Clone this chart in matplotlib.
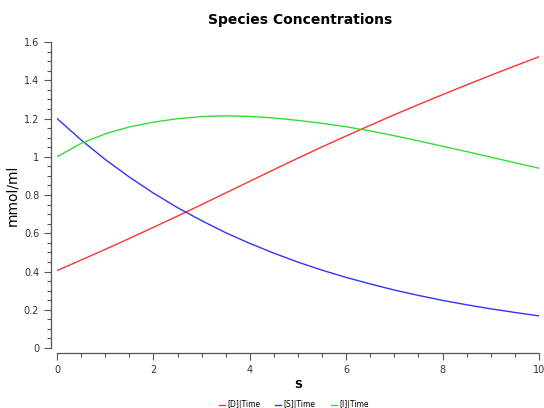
import numpy as np
import matplotlib
matplotlib.use("Agg")
import matplotlib.pyplot as plt
from matplotlib.ticker import MultipleLocator, FormatStrFormatter

# values, every 0.5 time units
time = [0, 0.5, 1, 1.5, 2, 2.5, 3, 3.5, 4, 4.5, 5,
        5.5, 6, 6.5, 7, 7.5, 8, 8.5, 9, 9.5, 10]
conc_D = [0.405, 0.46, 0.516, 0.573, 0.631, 0.69, 0.75, 0.811, 0.872, 0.933, 0.993,
          1.052, 1.109, 1.165, 1.22, 1.273, 1.325, 1.376, 1.426, 1.475, 1.523]
conc_S = [1.2, 1.088, 0.986, 0.894, 0.81, 0.734, 0.666, 0.603, 0.547, 0.496, 0.449,
          0.407, 0.369, 0.335, 0.303, 0.275, 0.249, 0.226, 0.205, 0.186, 0.168]
conc_I = [1.0, 1.07, 1.12, 1.156, 1.181, 1.199, 1.21, 1.214, 1.211, 1.203, 1.19,
          1.175, 1.157, 1.135, 1.11, 1.083, 1.055, 1.027, 0.998, 0.969, 0.94]
labels = ["[D]|Time", "[S]|Time", "[I]|Time"]

fig = plt.figure(figsize=(5.44, 4.08), dpi=100)
ax = fig.add_axes([0.1048, 0.147, 0.886, 0.75])

ax.plot(time, conc_D, color="#ff3333", lw=1, label=labels[0])
ax.plot(time, conc_S, color="#3333ff", lw=1, label=labels[1])
ax.plot(time, conc_I, color="#33dd33", lw=1, label=labels[2])

ax.set_xlim(0, 10)
ax.set_ylim(0, 1.6)

# detached axes like the original
ax.spines["top"].set_visible(False)
ax.spines["right"].set_visible(False)
ax.spines["left"].set_position(("outward", 4.3))
ax.spines["bottom"].set_position(("outward", 3.6))
for s in ["left", "bottom"]:
    ax.spines[s].set_color("#555555")
    ax.spines[s].set_linewidth(0.9)

ax.xaxis.set_major_locator(MultipleLocator(2))
ax.xaxis.set_minor_locator(MultipleLocator(0.5))
ax.yaxis.set_major_locator(MultipleLocator(0.2))
ax.yaxis.set_minor_locator(MultipleLocator(0.05))
ax.yaxis.set_major_formatter(FormatStrFormatter("%g"))
ax.tick_params(which="major", length=5, width=0.8, color="#555555",
               labelsize=7, labelcolor="#333333", direction="out")
ax.tick_params(which="minor", length=3, width=0.8, color="#555555", direction="out")

ax.set_xlabel("S", fontsize=8, fontweight="bold", labelpad=4)
ax.set_ylabel("mmol/ml", fontsize=10, labelpad=3)
fig.text(0.551, 0.951, "Species Concentrations", ha="center", va="center",
         fontsize=10, fontweight="bold")

fig.legend(loc="lower center", bbox_to_anchor=(0.54, -0.02), ncol=3, frameon=False,
           fontsize=5.5, handlelength=0.8, handletextpad=0.3, columnspacing=2.0)

fig.savefig("out.png", dpi=100)
